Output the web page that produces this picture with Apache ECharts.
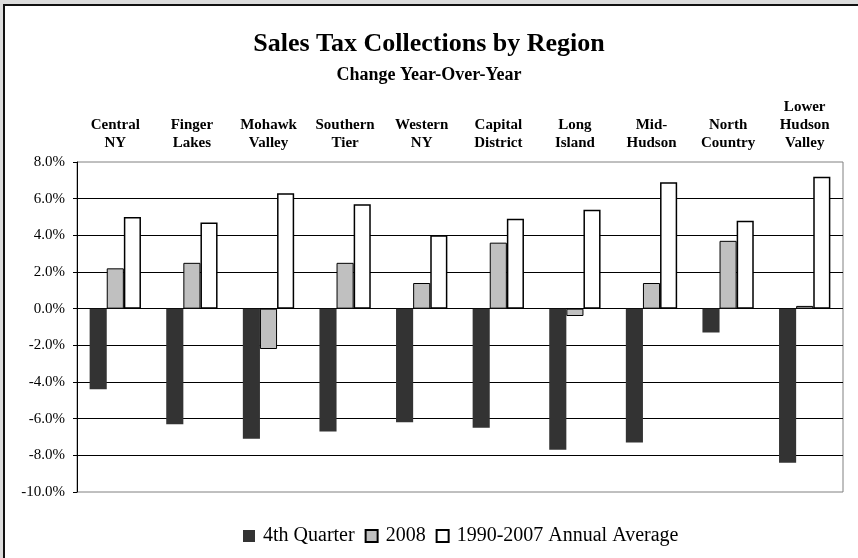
<!DOCTYPE html>
<html>
<head>
<meta charset="utf-8">
<script src="https://cdn.jsdelivr.net/npm/echarts@6/dist/echarts.min.js"></script>
<style>
html,body{margin:0;padding:0;background:#dcdcdc;}
#c{width:858px;height:558px;}
</style>
</head>
<body>
<div id="c"></div>
<script>
const categories = ["Central\nNY","Finger\nLakes","Mohawk\nValley","Southern\nTier","Western\nNY","Capital\nDistrict","Long\nIsland","Mid-\nHudson","North\nCountry","Lower\nHudson\nValley"];
const seriesNames = ["4th Quarter","2008","1990-2007 Annual Average"];
const q4 = [-4.4,-6.3,-7.1,-6.7,-6.2,-6.5,-7.7,-7.3,-1.3,-8.4];
const y2008 = [2.2,2.5,-2.2,2.5,1.4,3.6,-0.4,1.4,3.7,0.15];
const avg9007 = [5.0,4.7,6.3,5.7,4.0,4.9,5.4,6.9,4.8,7.2];
const yTicks = {min:-10, max:8, interval:2};

const chart = echarts.init(document.getElementById('c'), null, {renderer:'canvas'});
const serif = '"Liberation Serif","Times New Roman",serif';
chart.setOption({
  backgroundColor:'#dcdcdc',
  animation:false,
  graphic:[{type:'rect', z:-1, silent:true, shape:{x:4,y:5,width:900,height:600}, style:{fill:'#fff',stroke:'#111',lineWidth:2}}],
  title:[
    {text:'Sales Tax Collections by Region', left:'center', top:26, textStyle:{fontFamily:serif,fontWeight:'bold',fontSize:26,color:'#000'}},
    {text:'Change Year-Over-Year', left:'center', top:61, textStyle:{fontFamily:serif,fontWeight:'bold',fontSize:18,color:'#000'}}
  ],
  legend:{
    left:238, top:521, itemWidth:12, itemHeight:12, itemGap:10,
    icon:'rect',
    textStyle:{fontFamily:serif,fontSize:20,color:'#000',padding:[0,0,0,3]},
    data:seriesNames
  },
  grid:{left:77,right:15,top:162,bottom:66,show:true,borderColor:'#808080',borderWidth:1,backgroundColor:'transparent'},
  xAxis:{
    type:'category', position:'top', data:categories,
    axisLine:{show:false,onZero:false}, axisTick:{show:false},
    axisLabel:{fontFamily:serif,fontWeight:'bold',fontSize:15,color:'#000',lineHeight:18,margin:10,interval:0}
  },
  yAxis:{
    type:'value', min:yTicks.min, max:yTicks.max, interval:yTicks.interval,
    axisLine:{show:true,lineStyle:{color:'#000',width:1}},
    axisTick:{show:true,length:4,lineStyle:{color:'#000'}},
    axisLabel:{fontFamily:serif,fontSize:15,color:'#000',margin:12,formatter:v=>v.toFixed(1)+'%'},
    splitLine:{show:true,showMinLine:false,showMaxLine:false,lineStyle:{color:'#000',width:1}}
  },
  series:[
    {name:seriesNames[0],type:'bar',data:q4,barGap:'0%',barCategoryGap:'33%',itemStyle:{color:'#333333'}},
    {name:seriesNames[1],type:'bar',data:y2008,itemStyle:{color:'#c0c0c0',borderColor:'#000',borderWidth:1}},
    {name:seriesNames[2],type:'bar',data:avg9007,itemStyle:{color:'#ffffff',borderColor:'#000',borderWidth:1.5}}
  ]
});
</script>
</body>
</html>
